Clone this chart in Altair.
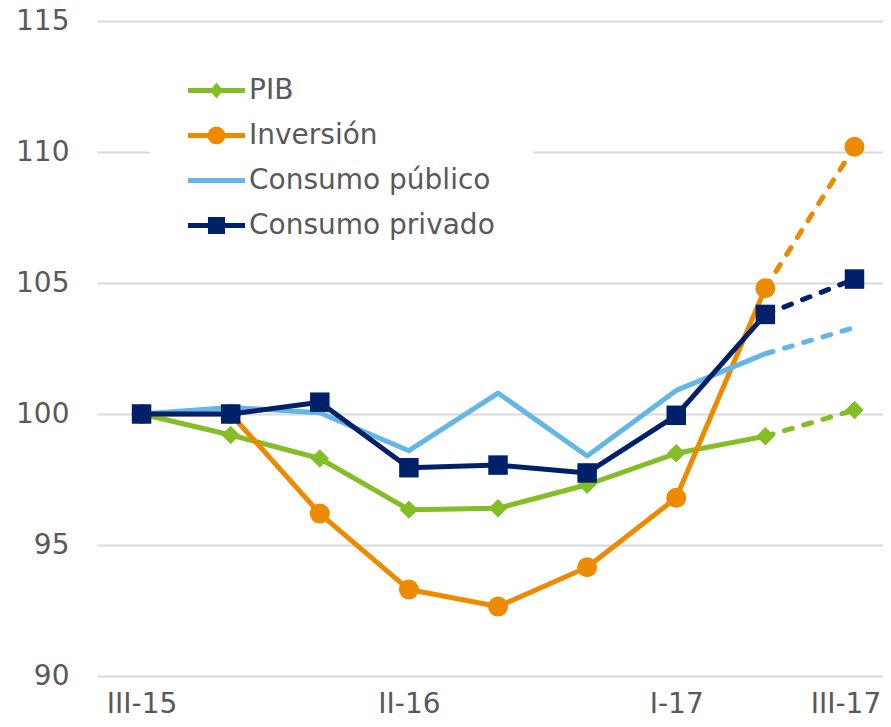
import math
import altair as alt
import pandas as pd

periodos = ["III-15", "IV-15", "I-16", "II-16", "III-16", "IV-16", "I-17", "II-17", "III-17"]
series = ["PIB", "Inversión", "Consumo público", "Consumo privado"]
colores = ["#84BD26", "#EE8A00", "#63B6E6", "#002169"]

pib = [100.0, 99.2, 98.3, 96.35, 96.4, 97.3, 98.5, 99.15, 100.15]
inversion = [100.0, 100.0, 96.2, 93.3, 92.65, 94.15, 96.8, 104.8, 110.2]
consumo_publico = [100.0, 100.25, 100.05, 98.6, 100.8, 98.4, 100.9, 102.3, 103.3]
consumo_privado = [100.0, 100.0, 100.45, 97.95, 98.05, 97.75, 99.95, 103.8, 105.15]

y_ticks = [90, 95, 100, 105, 110, 115]
x_tick_idx = [0, 3, 6, 8]

valores = {"PIB": pib, "Inversión": inversion,
           "Consumo público": consumo_publico, "Consumo privado": consumo_privado}
rows = []
for s in series:
    for i, (p, v) in enumerate(zip(periodos, valores[s])):
        rows.append({"idx": i, "periodo": p, "serie": s, "valor": v})
df = pd.DataFrame(rows)

marcadores = {"PIB": ("diamond", 340), "Inversión": ("circle", 400),
              "Consumo público": None, "Consumo privado": ("square", 380)}

# legend symbols: a line with its marker (unit coordinates, no arcs)
bar = "M-1,-0.09L1,-0.09L1,0.09L-1,0.09Z"
circ = "M" + "L".join("%.3f,%.3f" % (0.31 * math.cos(2 * math.pi * k / 20),
                                      0.31 * math.sin(2 * math.pi * k / 20)) for k in range(20)) + "Z"
leg_paths = [
    bar + "M-0.23,0L0,-0.28L0.23,0L0,0.28Z",
    bar + circ,
    bar,
    bar + "M-0.3,-0.3L0.3,-0.3L0.3,0.3L-0.3,0.3Z",
]

FONT = "DejaVu Sans"
color_scale = alt.Scale(domain=series, range=colores)
label_expr = "[" + ",".join("'%s'" % p for p in periodos) + "][datum.value]"

x_enc = alt.X("idx:Q",
              scale=alt.Scale(domain=[-0.5, 8.32], nice=False, zero=False),
              axis=alt.Axis(values=x_tick_idx, labelExpr=label_expr, grid=False,
                            ticks=False, domain=False, title=None, labelFontSize=28,
                            labelFont=FONT, labelColor="#595959", labelPadding=14,
                            labelOffset={"expr": "datum.value == 8 ? -9 : 0"}))
y_enc = alt.Y("valor:Q",
              scale=alt.Scale(domain=[90, 115], nice=False, zero=False),
              axis=alt.Axis(values=y_ticks, grid=True, gridColor="#D9D9D9", gridWidth=2,
                            ticks=False, domain=False, title=None, labelFontSize=28,
                            labelFont=FONT, labelColor="#595959", labelPadding=28))
c_enc = alt.Color("serie:N", scale=color_scale, legend=None)

base = alt.Chart(df)

# legend layer first, so that its (enabled) legend wins when legends are merged;
# it draws no marks itself (empty after filtering), only the legend from the scales
leg = alt.Legend(title=None, orient="none", legendX=53, legendY=3, direction="vertical",
                 labelFont=FONT, labelFontSize=28, labelColor="#595959", labelLimit=600,
                 symbolSize=3249, labelOffset=4, rowPadding=2, fillColor="white",
                 padding=38, symbolStrokeWidth=0, symbolOpacity=1)
legend_layer = base.mark_point(filled=True).encode(
    x=x_enc, y=y_enc,
    color=alt.Color("serie:N", scale=color_scale, legend=leg),
    shape=alt.Shape("serie:N", scale=alt.Scale(domain=series, range=leg_paths), legend=leg),
).transform_filter("false")

layers = [legend_layer]
for s in series:
    sel = alt.datum.serie == s
    solid = base.mark_line(strokeWidth=5, strokeJoin="round").encode(
        x=x_enc, y=y_enc, color=c_enc).transform_filter(sel).transform_filter(alt.datum.idx <= 7)
    dashed = base.mark_line(strokeWidth=5, strokeDash=[8, 12], strokeCap="round").encode(
        x=x_enc, y=y_enc, color=c_enc).transform_filter(sel).transform_filter(alt.datum.idx >= 7)
    layers += [solid, dashed]
    if marcadores[s]:
        shp, sz = marcadores[s]
        pts = base.mark_point(shape=shp, size=sz, filled=True, opacity=1).encode(
            x=x_enc, y=y_enc, color=c_enc).transform_filter(sel)
        layers.append(pts)

chart = alt.layer(*layers).properties(
    width=786, height=655,
    autosize=alt.AutoSizeParams(type="none"),
    padding={"left": 89, "top": 13, "right": 0, "bottom": 43},
    background="white",
).configure_view(stroke=None)

chart.save("out.html", embed_options={"renderer": "svg", "actions": False})
